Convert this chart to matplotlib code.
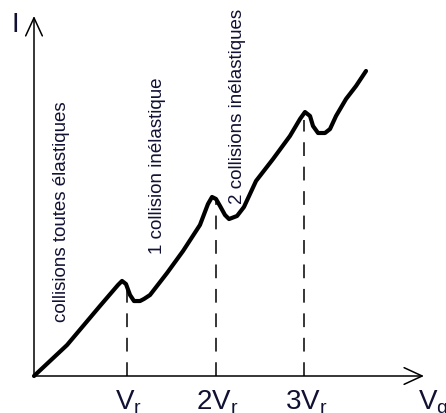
import matplotlib.pyplot as plt

plt.rcParams['font.family'] = ['Liberation Sans', 'DejaVu Sans']

# Franck-Hertz style curve, x in units of Vr, y arbitrary current
curve_x = [0.0, 0.367, 0.733, 0.933, 0.978, 1.022, 1.067, 1.111, 1.178, 1.222,
           1.289, 1.478, 1.656, 1.844, 1.933, 1.978, 2.022, 2.067, 2.122, 2.167,
           2.256, 2.333, 2.467, 2.656, 2.844, 2.956, 3.011, 3.067, 3.1, 3.156,
           3.233, 3.289, 3.356, 3.467, 3.578, 3.689]
curve_y = [0.0, 0.344, 0.778, 1.011, 1.056, 1.022, 0.9, 0.833, 0.833, 0.856,
           0.9, 1.144, 1.389, 1.678, 1.911, 1.989, 1.967, 1.889, 1.789, 1.744,
           1.778, 1.878, 2.167, 2.411, 2.667, 2.856, 2.933, 2.889, 2.778, 2.7,
           2.7, 2.744, 2.889, 3.078, 3.222, 3.389]

# dashed lines under the peaks
peak_x = [1.03, 2.02, 3.0]
peak_top = [1.05, 1.97, 2.85]
tick_labels = [r'$\mathregular{V_r}$', r'$\mathregular{2V_r}$', r'$\mathregular{3V_r}$']

region_labels = ['collisions toutes élastiques', '1 collision inélastique',
                 '2 collisions inélastiques']
region_x = [0.311, 1.367, 2.256]
region_y = [1.833, 2.344, 3.011]

txt = '#111133'

fig = plt.figure(figsize=(4.46, 4.14), dpi=100)
ax = fig.add_axes([0, 0, 1, 1])
ax.set_xlim(-34 / 90, 412 / 90)
ax.set_ylim(-37 / 90, 377 / 90)
ax.axis('off')

# axes with open arrow heads
arr = dict(arrowstyle='->,head_length=1.3,head_width=0.6', lw=1.1, color='black',
           shrinkA=0, shrinkB=0, mutation_scale=10)
ax.annotate('', xy=(4.333, 0), xytext=(0, 0), arrowprops=arr)
ax.annotate('', xy=(0, 4.0), xytext=(0, 0), arrowprops=arr)

ax.plot(curve_x, curve_y, color='black', lw=3, solid_joinstyle='round',
        solid_capstyle='round')

for x, top, lab in zip(peak_x, peak_top, tick_labels):
    ax.plot([x, x], [0, top], color='black', lw=1.1, linestyle=(0, (9, 7)))
    ax.text(x + 0.02, -0.356, lab, fontsize=20, ha='center', va='baseline', color=txt)

for x, y, lab in zip(region_x, region_y, region_labels):
    ax.text(x, y, lab, fontsize=13.5, rotation=90, ha='center', va='center', color=txt)

ax.text(-0.211, 3.911, 'I', fontsize=20, ha='center', va='center', color=txt)
ax.text(4.267, -0.356, r'$\mathregular{V_g}$', fontsize=20, ha='left', va='baseline', color=txt)

fig.savefig('out.png', dpi=100)
